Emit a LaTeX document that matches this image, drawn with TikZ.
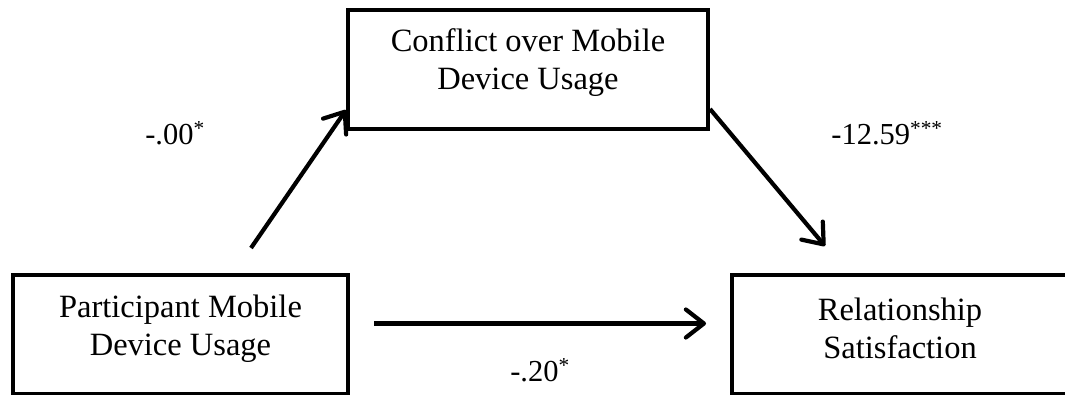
\documentclass[tikz,border=0pt]{standalone}
\usepackage{fontspec}
\setmainfont{Liberation Serif}
\usepackage{tikz}
\usetikzlibrary{arrows.meta,positioning,calc}

\begin{document}
\begin{tikzpicture}[x=1pt, y=-1pt,
  every node/.style={font=\fontsize{30.5}{38}\selectfont},
  varbox/.style={draw, line width=4pt, inner sep=0pt, minimum height=119pt},
  boxtext/.style={align=center, inner sep=0pt, font=\fontsize{32.5}{38}\selectfont},
  path/.style={line width=4.2pt, -{Straight Barb[length=18pt,width=28pt,line width=4.2pt,round]}}]
  \useasboundingbox (0,0) rectangle (1065,394);
  \clip (0,0) rectangle (1065,394);

  % mediator on top, predictor and outcome below
  \node[varbox, minimum width=360pt] (conf) at (528,69.5) {};
  \node[varbox, minimum width=335pt] (part) at (180.5,334.5) {};
  \node[varbox, minimum width=340pt] (rel) at (902,334.5) {};
  \node[boxtext] (conft) at ([yshift=7pt]conf.center) {Conflict over Mobile\\ Device Usage};
  \node[boxtext] (partt) at ([yshift=6pt]part.center) {Participant Mobile\\ Device Usage};
  \node[boxtext] (relt) at ([xshift=-2pt,yshift=6pt]rel.center) {Relationship\\ Satisfaction};

  \draw[path] ([xshift=240pt,yshift=25pt]part.north west) -- ([yshift=21pt]conf.south west);
  \draw[path] ([yshift=22pt]conf.south east) -- ([xshift=95pt,yshift=27pt]rel.north west);
  \draw[path] ([xshift=24pt,yshift=11pt]part.east) -- ([xshift=-24pt,yshift=11pt]rel.west);

  \node (a) at (175,133) {-.00\textsuperscript{*}};
  \node (b) at (887,133) {-12.59\textsuperscript{***}};
  \node (c) at (540,370) {-.20\textsuperscript{*}};
\end{tikzpicture}
\end{document}
